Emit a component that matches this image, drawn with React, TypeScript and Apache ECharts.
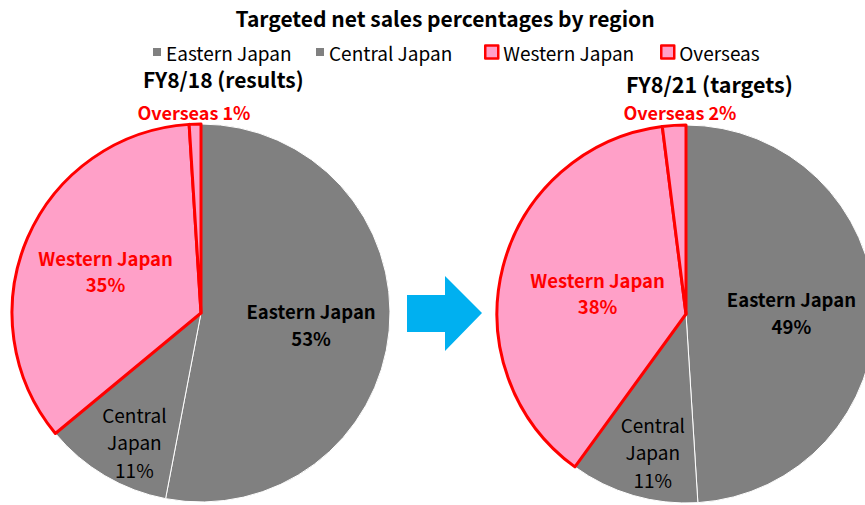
import React, { useEffect, useRef } from 'react';
import * as echarts from 'echarts';

const chartTitle = 'Targeted net sales percentages by region';
const categories = ['Eastern Japan', 'Central Japan', 'Western Japan', 'Overseas'];
const fy18Values = [53, 11, 35, 1];
const fy21Values = [49, 11, 38, 2];
const periodTitles = ['FY8/18 (results)', 'FY8/21 (targets)'];

const FONT = '"Noto Sans CJK JP", "Noto Sans", sans-serif';
const GREY = '#808080';
const PINK = '#FFA0C8';
const RED = '#FF0000';

const labelOffsets = [
  [[13, 2], [-17, 45], [-6, -3], [-4, -104]],
  [[8, 2], [-6, 44], [6, 3], [0, -105]],
];

const legendLefts = [153, 316, 484, 660];

function buildData(values: number[]) {
  return categories.map((name, i) => {
    const isRed = i >= 2;
    const item: any = {
      name,
      value: values[i],
      itemStyle: isRed
        ? { color: PINK, borderColor: RED, borderWidth: 3 }
        : { color: GREY, borderColor: '#FFFFFF', borderWidth: 1 },
    };
    if (i === 0) {
      item.label = { formatter: '{b}\n{c}%', color: '#000', fontWeight: 'bold', fontSize: 18.5, lineHeight: 27 };
    } else if (i === 1) {
      item.label = { formatter: 'Central\nJapan\n{c}%', color: '#000', fontWeight: 'normal', fontSize: 19, lineHeight: 27.5 };
    } else if (i === 2) {
      item.label = { formatter: '{b}\n{c}%', color: RED, fontWeight: 'bold', fontSize: 18.5, lineHeight: 26 };
    } else {
      item.label = { formatter: '{b} {c}%', color: RED, fontWeight: 'bold', fontSize: 18 };
    }
    return item;
  });
}

export default function App() {
  const ref = useRef<HTMLDivElement>(null);
  useEffect(() => {
    document.body.style.margin = '0';
    if (!ref.current) return;
    const chart = echarts.init(ref.current, null, { renderer: 'svg' });
    const pieBase = {
      type: 'pie',
      radius: 189,
      startAngle: 90,
      clockwise: true,
      avoidLabelOverlap: false,
      label: { show: true, position: 'inside', rotate: 0, fontFamily: FONT },
      labelLine: { show: false },
      emphasis: { disabled: true },
    };
    const legends = categories.map((name, i) => {
      const isRed = i >= 2;
      const size = isRed ? 13 : 8;
      return {
        data: [
          {
            name,
            itemStyle: isRed
              ? { color: PINK, borderColor: RED, borderWidth: 2.5 }
              : { color: GREY, borderWidth: 0 },
          },
        ],
        left: legendLefts[i],
        top: 41,
        padding: 0,
        itemWidth: size,
        itemHeight: size,
        icon: 'rect',
        textStyle: { fontFamily: FONT, fontSize: 19, color: '#000', lineHeight: 22 },
        selectedMode: false,
      };
    });
    chart.setOption({
      animation: false,
      backgroundColor: '#FFFFFF',
      textStyle: { fontFamily: FONT },
      title: [
        { text: chartTitle, left: 440, top: 2, textAlign: 'center', textStyle: { fontFamily: FONT, fontSize: 21, fontWeight: 'bold', color: '#000' } },
        { text: periodTitles[0], left: 138, top: 63, textStyle: { fontFamily: FONT, fontSize: 21, fontWeight: 'bold', color: '#000' } },
        { text: periodTitles[1], left: 621, top: 68, textStyle: { fontFamily: FONT, fontSize: 21.5, fontWeight: 'bold', color: '#000' } },
      ],
      legend: legends,
      graphic: [
        {
          type: 'polygon',
          shape: { points: [[407, 295], [445, 295], [445, 276], [482, 313], [445, 351], [445, 332], [407, 332]] },
          style: { fill: '#00B0F0' },
        },
      ],
      series: [
        {
          ...pieBase,
          name: periodTitles[0],
          center: [201, 313],
          data: buildData(fy18Values),
          labelLayout: (p: any) => ({ dx: labelOffsets[0][p.dataIndex][0], dy: labelOffsets[0][p.dataIndex][1] }),
        },
        {
          ...pieBase,
          name: periodTitles[1],
          center: [686, 314],
          data: buildData(fy21Values),
          labelLayout: (p: any) => ({ dx: labelOffsets[1][p.dataIndex][0], dy: labelOffsets[1][p.dataIndex][1] }),
        },
      ],
    });
    return () => chart.dispose();
  }, []);
  return <div ref={ref} style={{ width: 865, height: 505 }} />;
}
